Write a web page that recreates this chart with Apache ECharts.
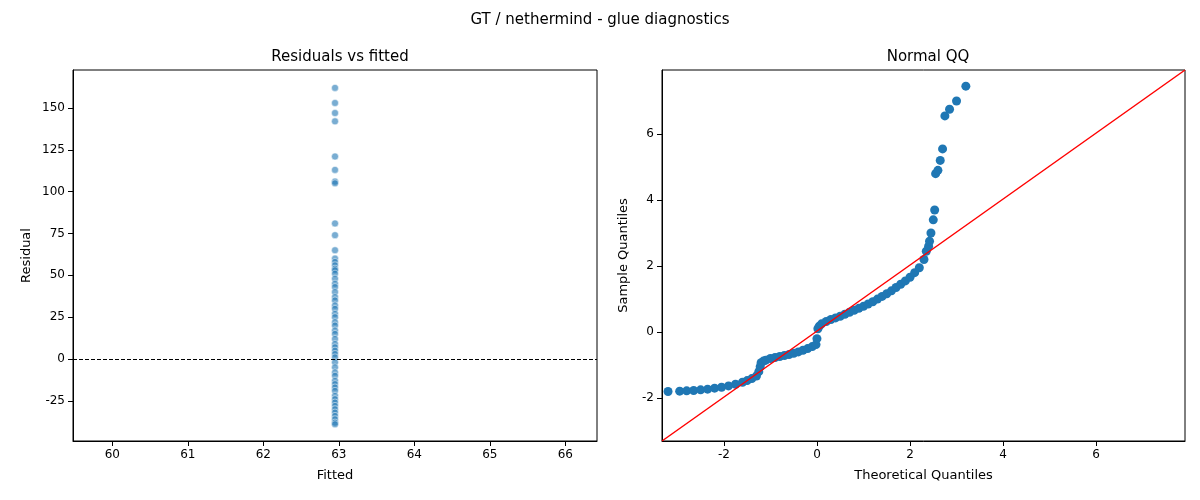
<!DOCTYPE html>
<html>
<head>
<meta charset="utf-8">
<script src="https://cdn.jsdelivr.net/npm/echarts@6/dist/echarts.min.js"></script>
<style>body{margin:0}#container{width:1200px;height:500px}</style>
</head>
<body>
<div id="container"></div>
<script>
// residuals vs fitted
const fittedValue = 62.95;
const residuals = [162, 153, 147, 142, 121, 113, 106, 105, 81, 74, 65, 60, 58, 56, 54, 53, 51, 48, 45, 43, 40, 37, 35, 32, 30, 27, 25, 22, 20, 17, 15, 12, 9, 7, 5, 3, 1, -2, -5, -8, -10, -13, -15, -17, -19, -22, -24, -26, -28, -30, -32, -34, -36, -38, -39];
const fittedTicks = [60, 61, 62, 63, 64, 65, 66];
const residualTicks = [-25, 0, 25, 50, 75, 100, 125, 150];
// normal QQ: [theoretical, sample]
const qqPoints = [
    [-3.2, -1.8], [-2.95, -1.79], [-2.8, -1.78], [-2.65, -1.77], [-2.5, -1.75], [-2.35, -1.73], [-2.2, -1.7], [-2.05, -1.67],
    [-1.9, -1.63], [-1.75, -1.58], [-1.6, -1.52], [-1.5, -1.47], [-1.4, -1.41], [-1.3, -1.33], [-1.25, -1.2], [-1.22, -1.05],
    [-1.2, -0.93], [-1.15, -0.88], [-1.1, -0.85], [-1.0, -0.8], [-0.9, -0.77], [-0.8, -0.74], [-0.7, -0.71], [-0.6, -0.68],
    [-0.5, -0.64], [-0.4, -0.6], [-0.3, -0.55], [-0.2, -0.5], [-0.1, -0.44], [-0.02, -0.38], [0, -0.2], [0.02, 0.1],
    [0.05, 0.18], [0.1, 0.25], [0.2, 0.32], [0.3, 0.38], [0.4, 0.43], [0.5, 0.48], [0.6, 0.54], [0.7, 0.6],
    [0.8, 0.66], [0.9, 0.72], [1.0, 0.78], [1.1, 0.85], [1.2, 0.92], [1.3, 1.0], [1.4, 1.08], [1.5, 1.16],
    [1.6, 1.25], [1.7, 1.35], [1.8, 1.45], [1.9, 1.55], [2.0, 1.66], [2.1, 1.8], [2.2, 1.95], [2.3, 2.2],
    [2.35, 2.45], [2.4, 2.6], [2.42, 2.75], [2.45, 3.0], [2.5, 3.4], [2.53, 3.7], [2.55, 4.8], [2.6, 4.9],
    [2.65, 5.2], [2.7, 5.55], [2.75, 6.55], [2.85, 6.75], [3.0, 7.0], [3.2, 7.45]
];
const qqTicks = [-2, 0, 2, 4, 6];
const refLine = [[-3.33, -3.3], [7.91, 7.94]];

var myChart = echarts.init(document.getElementById('container'));
function ax(extra, ticks) {
    return Object.assign({
        type: 'value',
        nameLocation: 'middle',
        axisLine: { show: true, onZero: false, lineStyle: { color: '#000' } },
        axisTick: { show: true, customValues: ticks, lineStyle: { color: '#000' } },
        axisLabel: { color: '#000', fontSize: 12, customValues: ticks },
        splitLine: { show: false },
        nameTextStyle: { color: '#000', fontSize: 13 }
    }, extra);
}
const box = { show: true, borderColor: '#000', borderWidth: 1 };
var option = {
    backgroundColor: '#fff',
    textStyle: { fontFamily: 'DejaVu Sans' },
    title: [
        { text: 'GT / nethermind - glue diagnostics', left: 'center', top: 8, textStyle: { fontSize: 15, fontWeight: 'normal', color: '#000' } },
        { text: 'Residuals vs fitted', left: 335, top: 45, textAlign: 'center', textStyle: { fontSize: 15, fontWeight: 'normal', color: '#000' } },
        { text: 'Normal QQ', left: 923, top: 45, textAlign: 'center', textStyle: { fontSize: 15, fontWeight: 'normal', color: '#000' } }
    ],
    grid: [
        Object.assign({ left: 73, top: 70, width: 524, height: 371 }, box),
        Object.assign({ left: 662, top: 70, width: 523, height: 371 }, box)
    ],
    xAxis: [
        ax({ gridIndex: 0, min: 59.48, max: 66.42, name: 'Fitted', nameGap: 28 }, fittedTicks),
        ax({ gridIndex: 1, min: -3.33, max: 7.91, name: 'Theoretical Quantiles', nameGap: 28 }, qqTicks)
    ],
    yAxis: [
        ax({ gridIndex: 0, min: -49, max: 172.7, name: 'Residual', nameGap: 40 }, residualTicks),
        ax({ gridIndex: 1, min: -3.3, max: 7.94, name: 'Sample Quantiles', nameGap: 32 }, qqTicks)
    ],
    series: [
        {
            type: 'scatter', xAxisIndex: 0, yAxisIndex: 0, symbolSize: 7,
            itemStyle: { color: 'rgba(31,119,180,0.75)', borderColor: '#fff', borderWidth: 0.6 },
            data: residuals.map(r => [fittedValue, r]),
            markLine: { silent: true, symbol: 'none', label: { show: false },
                lineStyle: { color: '#000', type: [4, 2], width: 1 }, data: [{ yAxis: 0 }] }
        },
        {
            type: 'scatter', xAxisIndex: 1, yAxisIndex: 1, symbolSize: 9,
            itemStyle: { color: '#1f77b4', opacity: 1 },
            data: qqPoints
        },
        {
            type: 'line', xAxisIndex: 1, yAxisIndex: 1, symbol: 'none',
            lineStyle: { color: '#ff0000', width: 1.5 }, data: refLine, z: 3
        }
    ]
};
myChart.setOption(option);
</script>
</body>
</html>
